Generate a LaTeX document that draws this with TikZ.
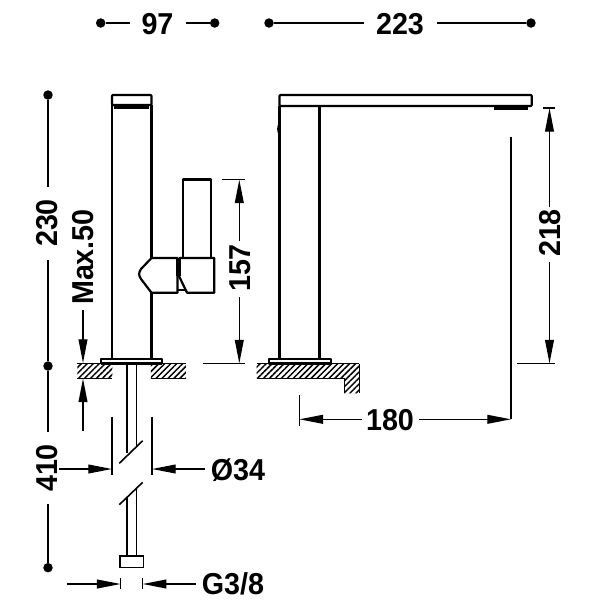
\documentclass[tikz,border=0pt]{standalone}
\usepackage{fontspec}
\setmainfont[FakeStretch=0.95]{Liberation Sans}
\usepackage{tikz}
\usetikzlibrary{arrows.meta,patterns.meta}

\tikzset{
  dimlabel/.style={inner sep=0pt, font=\fontsize{17.2}{19}\selectfont\bfseries},
  dimline/.style={line width=0.8pt},
  dimarrow/.style={line width=0.8pt, -{Triangle[length=13.5pt,width=5pt]}},
  dimdot/.style={circle, fill=black, inner sep=0pt, minimum size=0.19cm},
  outline/.style={line width=1.25pt, line join=round},
  thinout/.style={line width=0.9pt},
  hatched/.style={pattern={Lines[angle=45,distance=2.4pt,line width=0.85pt]}},
}

\begin{document}
\begin{tikzpicture}[x=0.02cm, y=-0.02cm]
   \useasboundingbox (0,0) rectangle (600,600);

   % labels
   \node [dimlabel] (w97) at (157.5,24) {97};
   \node [dimlabel] (w223) at (400,24) {223};
   \node [dimlabel, rotate=90] (h230) at (47,223) {230};
   \node [dimlabel, rotate=90] (h410) at (47,468) {410};
   \node [dimlabel, rotate=90] (hmax) at (83,257) {Max.50};
   \node [dimlabel, rotate=90] (h157) at (240,268) {157};
   \node [dimlabel, rotate=90] (h218) at (550,233) {218};
   \node [dimlabel] (w180) at (390,420) {180};
   \node [dimlabel] (d34) at (238,470) {Ø34};
   \node [dimlabel] (g38) at (233,584) {G3/8};

   % dots
   \node [dimdot] (dA) at (100.7,23) {};
   \node [dimdot] (dB) at (214.7,23) {};
   \node [dimdot] (dC) at (269,23) {};
   \node [dimdot] (dD) at (531,23) {};
   \node [dimdot] (dE) at (48,95) {};
   \node [dimdot] (dF) at (48,366) {};
   \node [dimdot] (dG) at (48,567.7) {};

   % left view
   \draw [outline] (112,105) -- (112,358.5);
   \draw [outline] (151.5,105) -- (151.5,258);
   \draw [outline] (151.5,293) -- (151.5,358.5);
   \draw [outline, rounded corners=0.5pt] (112,105) rectangle (151.5,95);
   \draw [line width=2pt] (114,107) -- (149,107);
   \draw [outline] (183,258) -- (183,179.5) -- (211,179.5) -- (211,258);
   \draw [outline] (151.5,258) -- (177.5,258) -- (177.5,292.7) -- (151.5,292.7)
      -- (141,279) .. controls (138.5,275) and (138.5,273) .. (141,269) -- cycle;
   \draw [outline] (179,258) -- (214.3,258) -- (214.3,292.7) -- (187,292.7) -- (178.5,275);
   \draw [line width=2.4pt] (178.5,258) -- (178.5,276);
   \draw [outline] (177.5,290) -- (185,290);
   \draw [outline] (100.7,363.5) -- (100.7,358.7) -- (162.3,358.7) -- (162.3,363.5);
   \draw [outline] (100.7,363.5) -- (162.3,363.5);

   % floor
   \fill [hatched] (77.3,364) rectangle (112.3,378);
   \fill [hatched] (151,364) rectangle (186,378);
   \draw [thinout] (77.3,378.3) -- (112.3,378.3);
   \draw [thinout] (77.3,363.7) -- (100.7,363.7);
   \draw [thinout] (162.3,363.7) -- (186,363.7);
   \draw [thinout] (151,378.3) -- (186,378.3);

   % pipe
   \draw [thinout] (127,364) -- (127,453);
   \draw [thinout] (136.7,364) -- (136.7,447);
   \draw [thinout] (119.3,463.3) -- (142.7,440.7);
   \draw [thinout] (119.3,504.7) -- (142.7,482.3);
   \draw [thinout] (127,497) -- (127,556);
   \draw [thinout] (136.7,488) -- (136.7,556);
   \draw [thinout] (120,556) rectangle (143.3,567.7);

   % right view
   \draw [outline, rounded corners=0.5pt] (279.5,95) rectangle (531.7,106);
   \draw [outline] (279.5,106) -- (279.5,359);
   \draw [outline] (319.5,106) -- (319.5,359);
   \draw [line width=2pt] (494,108) -- (527.7,108);
   \fill (279,123) .. controls (276.5,126) and (276.5,132) .. (279,135) -- cycle;
   \draw [outline] (268.7,363.5) -- (268.7,359) -- (331,359) -- (331,363.5) -- cycle;
   \fill [hatched] (256.7,364) -- (359,364) -- (359,393.3) -- (344.3,393.3)
      -- (344.3,378.3) -- (256.7,378.3) -- cycle;
   \draw [thinout] (256.7,363.7) -- (268.7,363.7);
   \draw [thinout] (331,363.7) -- (359,363.7);
   \draw [line width=0.4pt] (359,363.7) -- (359,393.3);
   \draw [thinout] (256.7,378.3) -- (344.3,378.3);
   \draw [line width=0.4pt] (344.3,378.3) -- (344.3,393.3);

   % dimensions top
   \draw [dimline] (dA) -- (130,23);
   \draw [dimline] (dB) -- (186,23);
   \draw [dimline] (dC) -- (364,23);
   \draw [dimline] (dD) -- (436.7,23);

   % dimensions left
   \draw [dimline] (dE) -- (48,186.7);
   \draw [dimline] (48,260) -- (dF);
   \draw [dimline] (dF) -- (48,431.7);
   \draw [dimline] (48,504) -- (dG);
   \draw [dimarrow] (83,310) -- (83,363);
   \draw [dimarrow] (83,430.7) -- (83,378.5);

   % 34 and 3/8
   \draw [thinout] (112,416.7) -- (112,475);
   \draw [thinout] (152,416.7) -- (152,475);
   \draw [dimarrow] (59.3,469) -- (112,469);
   \draw [dimarrow] (205,469) -- (152,469);
   \draw [thinout] (120.7,578) -- (120.7,589);
   \draw [thinout] (142.7,578) -- (142.7,589);
   \draw [dimarrow] (67,584) -- (120.7,584);
   \draw [dimarrow] (196,584) -- (142.7,584);

   % 157
   \draw [dimline] (221.7,179.3) -- (245,179.3);
   \draw [dimarrow] (239.3,241) -- (239.3,179.5);
   \draw [dimarrow] (239.3,297) -- (239.3,363.5);
   \draw [dimline] (202.7,363.7) -- (245,363.7);

   % 218
   \draw [dimline] (542.7,108) -- (555,108);
   \draw [dimarrow] (549.5,207) -- (549.5,108);
   \draw [dimarrow] (549.5,262) -- (549.5,363.5);
   \draw [dimline] (517.3,363.7) -- (555,363.7);

   % 180
   \draw [thinout] (511,136.7) -- (511,419.3);
   \draw [thinout] (299.3,395) -- (299.3,425.7);
   \draw [dimarrow] (361.7,419.3) -- (299.3,419.3);
   \draw [dimarrow] (419.3,419.3) -- (511,419.3);
\end{tikzpicture}
\end{document}
